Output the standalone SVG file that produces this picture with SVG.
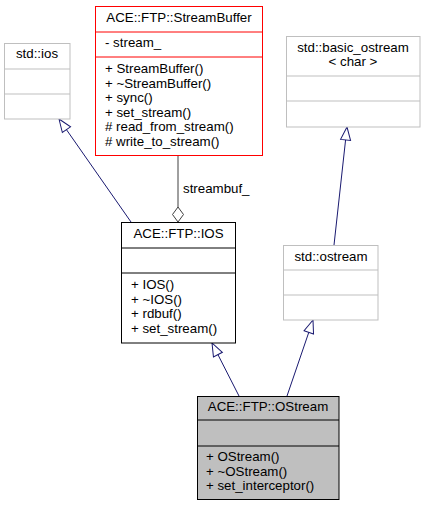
<svg xmlns="http://www.w3.org/2000/svg" width="425" height="507" viewBox="0 0 425 507">
<style>
text{font-family:"Liberation Sans",Arial,sans-serif;font-size:13.3px;fill:#000}
.c{text-anchor:middle}
.g rect,.g line{stroke:#bfbfbf;fill:#fff;stroke-width:1}
.r rect,.r line{stroke:#ff0000;fill:#fff;stroke-width:1}
.k rect,.k line{stroke:#000;fill:#fff;stroke-width:1}
.s rect{fill:#bfbfbf}
.inh{stroke:#191970;fill:none;stroke-width:1}
.agg{stroke:#404040;fill:none;stroke-width:1}
</style>
<defs>
<marker id="tri" markerUnits="userSpaceOnUse" viewBox="-15 -7 16 14" refX="0" refY="0" markerWidth="16" markerHeight="14" orient="auto">
<path d="M0,0 L-13,-5 L-13,5 Z" fill="#fff" stroke="#191970" stroke-width="1"/>
</marker>
<marker id="dia" markerUnits="userSpaceOnUse" viewBox="-17 -7 18 14" refX="0" refY="0" markerWidth="18" markerHeight="14" orient="auto">
<path d="M0,0 L-7.5,-5.5 L-15,0 L-7.5,5.5 Z" fill="#fff" stroke="#404040" stroke-width="1"/>
</marker>
</defs>
<g id="connectors">
<path class="inh" d="M131,222 L59,119" marker-end="url(#tri)"/>
<path class="agg" d="M178,156 L178,222" marker-end="url(#dia)"/>
<text x="183" y="193">streambuf_</text>
<path class="inh" d="M334,245 L347,127" marker-end="url(#tri)"/>
<path class="inh" d="M239,396 L212,343" marker-end="url(#tri)"/>
<path class="inh" d="M287,396 L313,320" marker-end="url(#tri)"/>
</g>
<g id="std_ios" class="g">
<rect x="4.5" y="43.5" width="65.5" height="75.5"/>
<line x1="4.5" y1="69" x2="70" y2="69"/>
<line x1="4.5" y1="94" x2="70" y2="94"/>
<text class="c" x="37" y="58">std::ios</text>
</g>
<g id="StreamBuffer" class="r">
<rect x="95.5" y="6.5" width="167" height="149"/>
<line x1="95.5" y1="32" x2="262.5" y2="32"/>
<line x1="95.5" y1="57" x2="262.5" y2="57"/>
<text class="c" x="179" y="22">ACE::FTP::StreamBuffer</text>
<text x="105" y="47">- stream_</text>
<text x="105" y="73">+ StreamBuffer()</text>
<text x="105" y="87.5">+ ~StreamBuffer()</text>
<text x="105" y="102">+ sync()</text>
<text x="105" y="116.5">+ set_stream()</text>
<text x="105" y="131"># read_from_stream()</text>
<text x="105" y="145.5"># write_to_stream()</text>
</g>
<g id="basic_ostream" class="g">
<rect x="286.5" y="36.5" width="133.5" height="90.5"/>
<line x1="286.5" y1="76" x2="420" y2="76"/>
<line x1="286.5" y1="101" x2="420" y2="101"/>
<text class="c" x="353" y="52">std::basic_ostream</text>
<text class="c" x="353" y="66">&lt; char &gt;</text>
</g>
<g id="IOS" class="k">
<rect x="121.5" y="222.5" width="114" height="120.5"/>
<line x1="121.5" y1="248" x2="235.5" y2="248"/>
<line x1="121.5" y1="273" x2="235.5" y2="273"/>
<text class="c" x="178.5" y="238">ACE::FTP::IOS</text>
<text x="131" y="289">+ IOS()</text>
<text x="131" y="303.5">+ ~IOS()</text>
<text x="131" y="318">+ rdbuf()</text>
<text x="131" y="332.5">+ set_stream()</text>
</g>
<g id="std_ostream" class="g">
<rect x="283.5" y="245.5" width="94.5" height="74.5"/>
<line x1="283.5" y1="270" x2="378" y2="270"/>
<line x1="283.5" y1="295" x2="378" y2="295"/>
<text class="c" x="331" y="261">std::ostream</text>
</g>
<g id="OStream" class="k s">
<rect x="197.5" y="396.5" width="141.5" height="103"/>
<line x1="197.5" y1="420" x2="339" y2="420"/>
<line x1="197.5" y1="446" x2="339" y2="446"/>
<text class="c" x="268" y="411">ACE::FTP::OStream</text>
<text x="206" y="461">+ OStream()</text>
<text x="206" y="476">+ ~OStream()</text>
<text x="206" y="490">+ set_interceptor()</text>
</g>
</svg>
